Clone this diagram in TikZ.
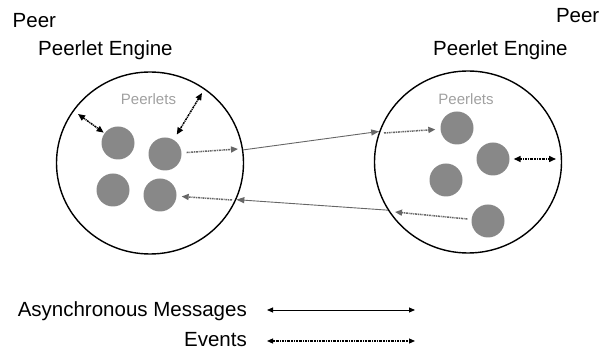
\documentclass[tikz,border=0pt]{standalone}
\usepackage{fontspec}
\setmainfont{Liberation Sans}
\usetikzlibrary{arrows.meta,shapes.geometric}
\definecolor{peerletgray}{HTML}{888888}
\definecolor{arrowgray}{HTML}{666666}
\definecolor{textgray}{HTML}{A0A0A0}
\begin{document}
\begin{tikzpicture}[x=1pt, y=-1pt,
  bigtext/.style={font=\fontsize{20.5}{24}\selectfont, inner sep=0pt},
  smalltext/.style={font=\fontsize{15}{18}\selectfont, text=textgray, inner sep=0pt},
  engine/.style={ellipse, draw, line width=1.4pt, minimum width=187pt, minimum height=182pt, inner sep=0pt},
  peerlet/.style={circle, fill=peerletgray, minimum size=33pt, inner sep=0pt},
  msg/.style={arrowgray, line width=0.9pt, -{Triangle[length=8pt, width=6pt]}},
  evt/.style={line width=1.5pt, dash pattern=on 2pt off 0.8pt on 1pt off 0.8pt},
  bothtip/.style={{Triangle[length=7pt, width=6pt]}-{Triangle[length=7pt, width=6pt]}},
  gravtip/.style={arrowgray, -{Triangle[length=7pt, width=6pt]}}]
\useasboundingbox (0,0) rectangle (600,352);

% left peer
\node [bigtext, anchor=base west] (peerL) at (12.5,28) {Peer};
\node [bigtext, anchor=base west] (titleL) at (38,56) {Peerlet Engine};
\node [engine] (engL) at (150,163) {};
\node [smalltext, anchor=base] (plL) at (148.5,105) {Peerlets};
\node [peerlet] (la) at (118,143) {};
\node [peerlet] (lb) at (165,154) {};
\node [peerlet] (lc) at (113,190) {};
\node [peerlet] (ld) at (160,195) {};

% right peer
\node [bigtext, anchor=base east] (peerR) at (599.5,23) {Peer};
\node [bigtext, anchor=base west] (titleR) at (433,56) {Peerlet Engine};
\node [engine] (engR) at (468,162) {};
\node [smalltext, anchor=base] (plR) at (466,105) {Peerlets};
\node [peerlet] (ra) at (457,128) {};
\node [peerlet] (rb) at (493,159) {};
\node [peerlet] (rc) at (446,180) {};
\node [peerlet] (rd) at (488,221) {};

% free ends of the event arrows
\coordinate (ev1) at (78,114);
\coordinate (ev2) at (202,93);
\coordinate (ev3) at (238,149);
\coordinate (ev4) at (232,200);
\coordinate (ev5) at (384,133);
\coordinate (ev6) at (556,159);
\coordinate (ev7) at (395,212);

% events
\draw [evt, bothtip, shorten >=1pt] (ev1) -- (la);
\draw [evt, bothtip, shorten >=6pt] (ev2) -- (lb);
\draw [evt, gravtip, shorten <=5pt] (lb) -- (ev3);
\draw [evt, gravtip, shorten >=5pt] (ev4) -- (ld);
\draw [evt, gravtip, shorten >=5pt] (ev5) -- (ra);
\draw [evt, bothtip, shorten <=4pt] (rb) -- (ev6);
\draw [evt, gravtip, shorten <=4pt] (rd) -- (ev7);

% asynchronous messages
\draw [msg] (engL.8.6) -- (engR.161.8);
\draw [msg] (engR.211) -- (engL.-23.4);

% legend
\node [bigtext, anchor=base east] (keyMsg) at (247,317) {Asynchronous Messages};
\node [bigtext, anchor=base east] (keyEvt) at (247,347) {Events};
\coordinate (m1) at (267,310);
\coordinate (m2) at (415,310);
\coordinate (e1) at (267,341);
\coordinate (e2) at (415,341);
\draw [line width=0.9pt, {Triangle[length=6pt, width=5pt]}-{Triangle[length=6pt, width=5pt]}] (m1) -- (m2);
\draw [evt, line width=1.1pt, {Triangle[length=6pt, width=5pt]}-{Triangle[length=6pt, width=5pt]}] (e1) -- (e2);
\end{tikzpicture}
\end{document}
